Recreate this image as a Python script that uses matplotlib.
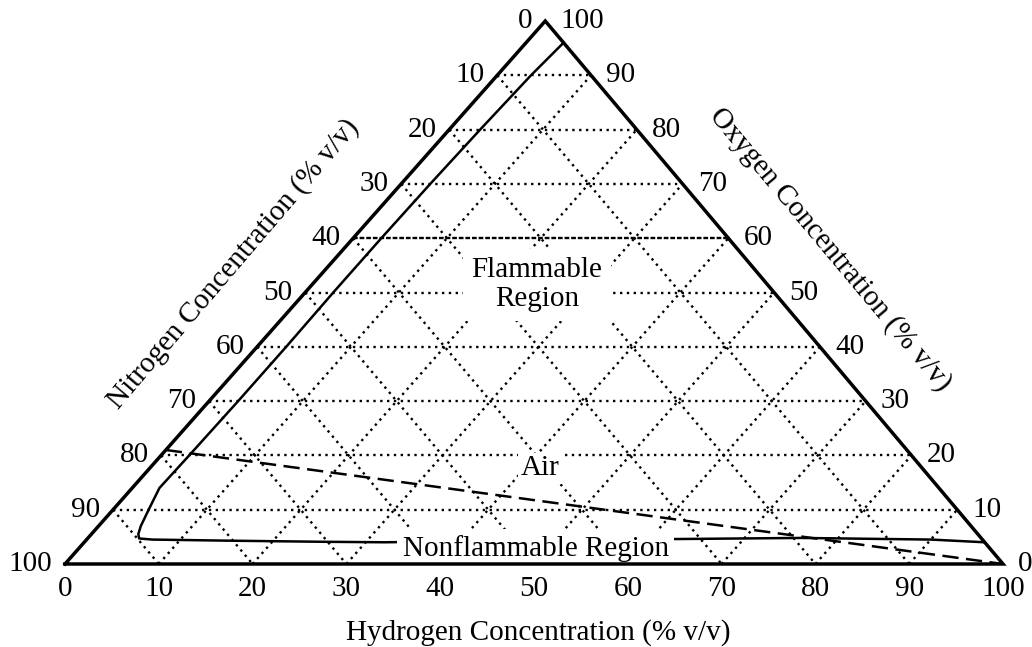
import matplotlib

matplotlib.use("Agg")
import matplotlib.pyplot as plt
import numpy as np

plt.rcParams["font.family"] = ["Liberation Serif", "DejaVu Serif"]

# 図中の値 (% v/v)。H2 と O2 を持てば N2 = 100 - H2 - O2
GRID_STEPS = [10, 20, 30, 40, 50, 60, 70, 80, 90]
TICKS = [0, 10, 20, 30, 40, 50, 60, 70, 80, 90, 100]

# 可燃範囲の境界（実線）
flam_h2 = [4.0, 3.6, 3.3, 3.1, 3.0, 3.0, 3.1, 3.1, 3.0, 2.9, 3.8, 4.5, 5.0, 5.5, 7.0,
           15.0, 25.0, 32.0, 45.0, 63.0, 76.0, 90.0, 96.0]
flam_o2 = [96.0, 90.0, 80.0, 70.0, 60.0, 50.0, 40.0, 30.0, 20.0, 14.0, 10.0, 7.0, 5.5, 4.7, 4.5,
           4.3, 4.1, 4.0, 4.3, 4.6, 4.8, 4.5, 4.0]

# 空気 + 水素 の混合線（破線）
air_h2 = [0.0, 100.0]
air_o2 = [21.0, 0.0]

SKEW = 0.512   # 頂点の横位置（底辺に対する比）


def xy(h2, o2):
    h2, o2 = np.asarray(h2, float), np.asarray(o2, float)
    return h2 + SKEW * o2, o2


def main():
    fig = plt.figure(figsize=(10.32, 6.47), dpi=100)
    ax = fig.add_axes([65 / 1032, 83 / 647, 938 / 1032, 543 / 647])
    ax.set_xlim(0, 100)
    ax.set_ylim(0, 100)
    ax.axis("off")

    dot = dict(color="black", lw=1.7, ls=(0, (1, 1.9)), zorder=1)
    for k in GRID_STEPS:
        style = dict(dot, ls=(0, (2.0, 0.8))) if k == 60 else dot
        ax.plot(*xy([0, 100 - k], [k, k]), **style)          # O2 一定
        ax.plot(*xy([k, k], [0, 100 - k]), **dot)            # H2 一定
        ax.plot(*xy([0, 100 - k], [100 - k, 0]), **dot)      # N2 一定

    ax.plot(*xy(flam_h2, flam_o2), color="black", lw=1.8, zorder=2)
    ax.plot(*xy(air_h2, air_o2), color="black", lw=1.8, ls=(0, (6.5, 3)), zorder=4)

    # 三角形の枠
    ax.plot(*xy([0, 100, 0, 0], [0, 0, 100, 0]), color="black", lw=2.5,
            solid_joinstyle="miter", zorder=5, clip_on=False)

    fs = 21
    kw = dict(fontsize=fs, textcoords="offset points", annotation_clip=False)
    for t in TICKS:
        ax.annotate(str(t), xy(t, 0), xytext=(0, -18), ha="center", va="center", **kw)
        ax.annotate(str(t), xy(0, 100 - t), xytext=(-9, 0), ha="right", va="center", **kw)
        ax.annotate(str(t), xy(100 - t, t), xytext=(11, 0), ha="left", va="center", **kw)

    ax.text(50.4, -12.6, "Hydrogen Concentration (% v/v)", fontsize=fs,
            ha="center", va="center")
    ax.text(18.0, 55.3, "Nitrogen Concentration (% v/v)", fontsize=fs,
            ha="center", va="center", rotation=49.5, rotation_mode="anchor")
    ax.text(81.6, 58.0, "Oxygen Concentration (% v/v)", fontsize=fs,
            ha="center", va="center", rotation=-50, rotation_mode="anchor")

    box = dict(facecolor="white", edgecolor="none", pad=2)
    ax.text(50.3, 51.4, "Flammable\nRegion", fontsize=fs, ha="center", va="center",
            linespacing=1.15, zorder=3, bbox=dict(box, pad=6))
    ax.text(50.7, 17.6, "Air", fontsize=fs, ha="center", va="center", zorder=3, bbox=box)
    ax.text(50.2, 2.9, "Nonflammable Region", fontsize=fs, ha="center", va="center",
            zorder=3, bbox=dict(box, pad=4))

    fig.savefig("out.png", dpi=100)


if __name__ == "__main__":
    main()
